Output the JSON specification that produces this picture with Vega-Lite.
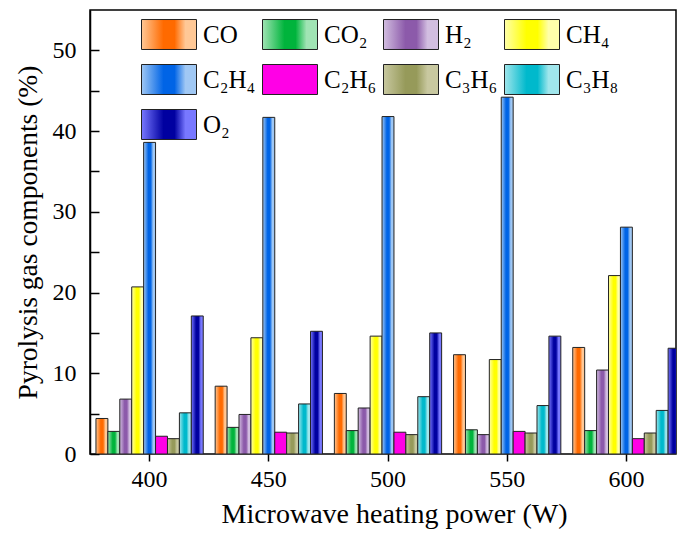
{
  "$schema": "https://vega.github.io/schema/vega-lite/v6.json",
  "width": 586,
  "height": 444,
  "autosize": {"type": "none"},
  "padding": {"left": 90, "top": 10, "right": 1, "bottom": 84},
  "config": {
    "font": "Liberation Serif",
    "view": {"stroke": "#000", "strokeWidth": 1.5},
    "axis": {"labelFont": "Liberation Serif", "titleFont": "Liberation Serif", "labelColor": "#000", "titleColor": "#000", "tickColor": "#000", "domainColor": "#000", "titleFontWeight": "normal", "grid": false}
  },
  "data": {
    "values": [
      {"power": "400", "gas": "CO", "value": 4.4},
      {"power": "400", "gas": "CO₂", "value": 2.8},
      {"power": "400", "gas": "H₂", "value": 6.8},
      {"power": "400", "gas": "CH₄", "value": 20.7},
      {"power": "400", "gas": "C₂H₄", "value": 38.6},
      {"power": "400", "gas": "C₂H₆", "value": 2.2},
      {"power": "400", "gas": "C₃H₆", "value": 1.9},
      {"power": "400", "gas": "C₃H₈", "value": 5.1},
      {"power": "400", "gas": "O₂", "value": 17.1},
      {"power": "450", "gas": "CO", "value": 8.4},
      {"power": "450", "gas": "CO₂", "value": 3.3},
      {"power": "450", "gas": "H₂", "value": 4.9},
      {"power": "450", "gas": "CH₄", "value": 14.4},
      {"power": "450", "gas": "C₂H₄", "value": 41.7},
      {"power": "450", "gas": "C₂H₆", "value": 2.7},
      {"power": "450", "gas": "C₃H₆", "value": 2.6},
      {"power": "450", "gas": "C₃H₈", "value": 6.2},
      {"power": "450", "gas": "O₂", "value": 15.2},
      {"power": "500", "gas": "CO", "value": 7.5},
      {"power": "500", "gas": "CO₂", "value": 2.9},
      {"power": "500", "gas": "H₂", "value": 5.7},
      {"power": "500", "gas": "CH₄", "value": 14.6},
      {"power": "500", "gas": "C₂H₄", "value": 41.8},
      {"power": "500", "gas": "C₂H₆", "value": 2.7},
      {"power": "500", "gas": "C₃H₆", "value": 2.4},
      {"power": "500", "gas": "C₃H₈", "value": 7.1},
      {"power": "500", "gas": "O₂", "value": 15.0},
      {"power": "550", "gas": "CO", "value": 12.3},
      {"power": "550", "gas": "CO₂", "value": 3.0},
      {"power": "550", "gas": "H₂", "value": 2.4},
      {"power": "550", "gas": "CH₄", "value": 11.7},
      {"power": "550", "gas": "C₂H₄", "value": 44.2},
      {"power": "550", "gas": "C₂H₆", "value": 2.8},
      {"power": "550", "gas": "C₃H₆", "value": 2.6},
      {"power": "550", "gas": "C₃H₈", "value": 6.0},
      {"power": "550", "gas": "O₂", "value": 14.6},
      {"power": "600", "gas": "CO", "value": 13.2},
      {"power": "600", "gas": "CO₂", "value": 2.9},
      {"power": "600", "gas": "H₂", "value": 10.4},
      {"power": "600", "gas": "CH₄", "value": 22.1},
      {"power": "600", "gas": "C₂H₄", "value": 28.1},
      {"power": "600", "gas": "C₂H₆", "value": 1.9},
      {"power": "600", "gas": "C₃H₆", "value": 2.6},
      {"power": "600", "gas": "C₃H₈", "value": 5.4},
      {"power": "600", "gas": "O₂", "value": 13.1}
    ]
  },
  "mark": {"type": "bar", "clip": true, "stroke": "#222", "strokeWidth": 1, "opacity": 1},
  "encoding": {
    "x": {
      "field": "power",
      "type": "ordinal",
      "scale": {"range": [0, 596], "paddingInner": 0, "paddingOuter": 0},
      "axis": {"title": "Microwave heating power (W)", "titleFontSize": 28, "titlePadding": 9, "titleX": 304, "labelFontSize": 24, "labelAngle": 0, "labelPadding": 6, "tickSize": 7, "tickWidth": 1.5, "domain": false}
    },
    "xOffset": {
      "field": "gas",
      "type": "nominal",
      "scale": {"domain": ["CO", "CO₂", "H₂", "CH₄", "C₂H₄", "C₂H₆", "C₃H₆", "C₃H₈", "O₂"], "paddingInner": 0, "paddingOuter": 0.5}
    },
    "y": {
      "field": "value",
      "type": "quantitative",
      "scale": {"domain": [0, 55], "nice": false},
      "axis": {"title": "Pyrolysis gas components (%)", "titleFontSize": 27.5, "titlePadding": 10, "labelFontSize": 24, "labelPadding": 23, "values": [0, 5, 10, 15, 20, 25, 30, 35, 40, 45, 50], "labelExpr": "datum.value % 10 === 0 ? datum.label : ''", "tickSize": -9, "tickWidth": 1.5, "domainWidth": 1.5}
    },
    "color": {
      "field": "gas",
      "type": "nominal",
      "scale": {
        "domain": ["CO", "CO₂", "H₂", "CH₄", "C₂H₄", "C₂H₆", "C₃H₆", "C₃H₈", "O₂"],
        "range": [
          {"expr": "{gradient: 'linear', x1: 0, y1: 0, x2: 1, y2: 0, stops: [{offset: 0, color: '#FFC896'}, {offset: 0.4, color: '#FF6A00'}, {offset: 0.6, color: '#FF6A00'}, {offset: 0.8, color: '#FFC896'}, {offset: 1, color: '#FFC896'}]}"},
          {"expr": "{gradient: 'linear', x1: 0, y1: 0, x2: 1, y2: 0, stops: [{offset: 0, color: '#A0E4B4'}, {offset: 0.4, color: '#00B43C'}, {offset: 0.6, color: '#00B43C'}, {offset: 0.8, color: '#A0E4B4'}, {offset: 1, color: '#A0E4B4'}]}"},
          {"expr": "{gradient: 'linear', x1: 0, y1: 0, x2: 1, y2: 0, stops: [{offset: 0, color: '#D2BEE0'}, {offset: 0.4, color: '#8C5AAA'}, {offset: 0.6, color: '#8C5AAA'}, {offset: 0.8, color: '#D2BEE0'}, {offset: 1, color: '#D2BEE0'}]}"},
          {"expr": "{gradient: 'linear', x1: 0, y1: 0, x2: 1, y2: 0, stops: [{offset: 0, color: '#FFFFAA'}, {offset: 0.4, color: '#FFFF00'}, {offset: 0.6, color: '#FFFF00'}, {offset: 0.8, color: '#FFFFAA'}, {offset: 1, color: '#FFFFAA'}]}"},
          {"expr": "{gradient: 'linear', x1: 0, y1: 0, x2: 1, y2: 0, stops: [{offset: 0, color: '#A0C8F4'}, {offset: 0.4, color: '#0064E6'}, {offset: 0.6, color: '#0064E6'}, {offset: 0.8, color: '#A0C8F4'}, {offset: 1, color: '#A0C8F4'}]}"},
          "#FF00E6",
          {"expr": "{gradient: 'linear', x1: 0, y1: 0, x2: 1, y2: 0, stops: [{offset: 0, color: '#C8C8A0'}, {offset: 0.4, color: '#969A5A'}, {offset: 0.6, color: '#969A5A'}, {offset: 0.8, color: '#C8C8A0'}, {offset: 1, color: '#C8C8A0'}]}"},
          {"expr": "{gradient: 'linear', x1: 0, y1: 0, x2: 1, y2: 0, stops: [{offset: 0, color: '#A0E6EC'}, {offset: 0.4, color: '#00B9CC'}, {offset: 0.6, color: '#00B9CC'}, {offset: 0.8, color: '#A0E6EC'}, {offset: 1, color: '#A0E6EC'}]}"},
          {"expr": "{gradient: 'linear', x1: 0, y1: 0, x2: 1, y2: 0, stops: [{offset: 0, color: '#7878FF'}, {offset: 0.4, color: '#0000A0'}, {offset: 0.6, color: '#0000A0'}, {offset: 0.8, color: '#7878FF'}, {offset: 1, color: '#7878FF'}]}"}
        ]
      },
      "legend": {
        "orient": "none",
        "direction": "horizontal",
        "legendX": 51,
        "legendY": -3.5,
        "columns": 4,
        "title": null,
        "padding": 0,
        "symbolType": "M-1,-0.545H1V0.545H-1Z",
        "symbolSize": 3025,
        "symbolStrokeColor": "#222",
        "symbolStrokeWidth": 1,
        "symbolOpacity": 1,
        "labelFont": "Liberation Serif",
        "labelFontSize": 25,
        "labelColor": "#000",
        "labelOffset": 6,
        "labelLimit": 0,
        "rowPadding": -14,
        "columnPadding": 4
      }
    }
  }
}
